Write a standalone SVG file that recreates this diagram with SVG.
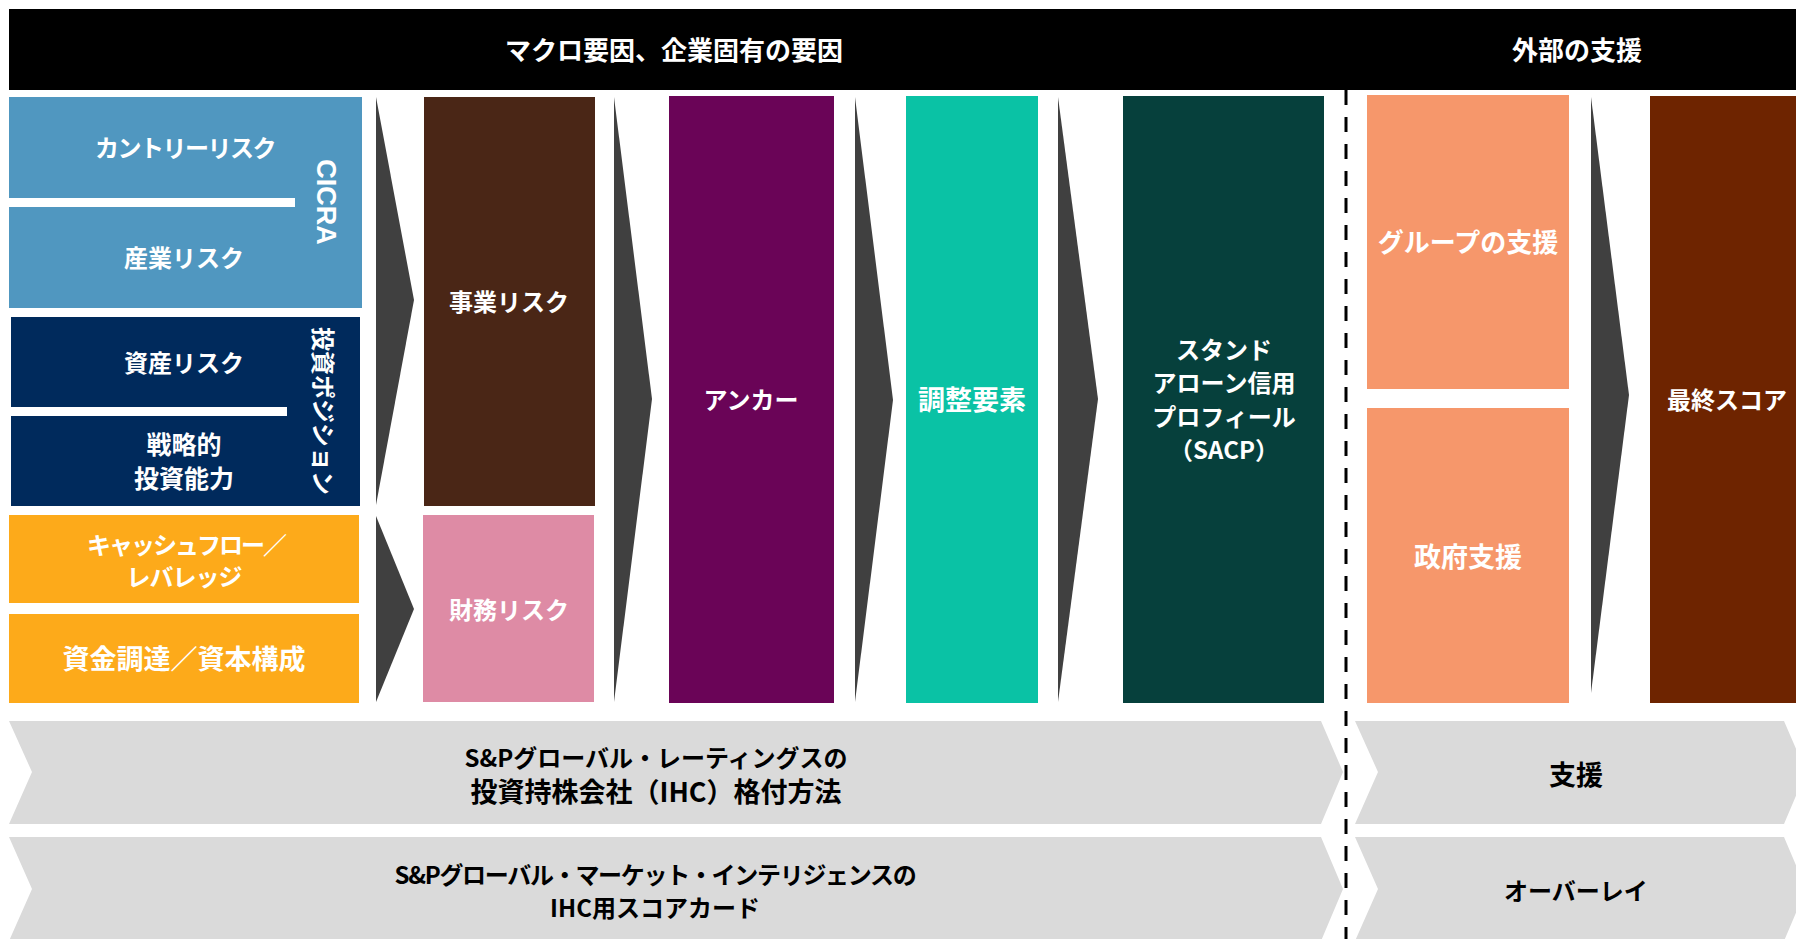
<svg xmlns="http://www.w3.org/2000/svg" width="1796" height="939" viewBox="0 0 1796 939">
<style>
  .t { font-family: "Noto Sans CJK JP", "Noto Sans", sans-serif; font-weight: bold; font-size: 24px; fill: #ffffff; text-anchor: middle; dominant-baseline: central; }
  .h { font-size: 26px; }
  .k { fill: #000000; }
  .chev { fill: #404040; }
  .band { fill: #DADADA; }
</style>
<rect width="1796" height="939" fill="#ffffff"/>

<g id="header">
  <rect x="9" y="9" width="1787" height="81" fill="#000000"/>
  <text class="t h" x="674" y="48">マクロ要因、企業固有の要因</text>
  <text class="t h" x="1577" y="48">外部の支援</text>
</g>

<g id="cicra">
  <path d="M9,97 H362 V308 H9 Z" fill="#5097C0"/>
  <rect x="9" y="198" width="286" height="9" fill="#ffffff"/>
  <text class="t" x="185" y="146" style="letter-spacing:-1.5px">カントリーリスク</text>
  <text class="t" x="184" y="256">産業リスク</text>
  <text class="t" x="0" y="0" transform="translate(326,202) rotate(90)" style="font-family:'Liberation Sans',Arial,sans-serif;font-size:27px">CICRA</text>
</g>

<g id="investment-position">
  <rect x="11" y="317" width="349" height="189" fill="#002A5C"/>
  <rect x="9" y="407" width="278" height="9" fill="#ffffff"/>
  <text class="t" x="184" y="361">資産リスク</text>
  <text class="t" x="184" y="443" style="font-size:25px">戦略的</text>
  <text class="t" x="184" y="477" style="font-size:25px">投資能力</text>
  <text class="t" x="0" y="0" transform="translate(324,411) rotate(90)">投資ポジション</text>
</g>

<g id="cashflow">
  <rect x="9" y="515" width="350" height="88" fill="#FDAA1A"/>
  <text class="t" x="186" y="543" style="letter-spacing:-2px">キャッシュフロー／</text>
  <text class="t" x="184" y="575" style="letter-spacing:-1px">レバレッジ</text>
</g>
<g id="funding">
  <rect x="9" y="614" width="350" height="89" fill="#FDAA1A"/>
  <text class="t" x="184" y="657" style="font-size:27px">資金調達／資本構成</text>
</g>

<g id="business-risk">
  <rect x="424" y="97" width="171" height="409" fill="#4A2616"/>
  <text class="t" x="509" y="300">事業リスク</text>
</g>
<g id="financial-risk">
  <rect x="423" y="515" width="171" height="187" fill="#DE8BA5"/>
  <text class="t" x="509" y="608">財務リスク</text>
</g>
<g id="anchor">
  <rect x="669" y="96" width="165" height="607" fill="#6A0457"/>
  <text class="t" x="751" y="398">アンカー</text>
</g>
<g id="modifiers">
  <rect x="906" y="96" width="132" height="607" fill="#0AC2A5"/>
  <text class="t" x="972" y="398" style="font-size:27px">調整要素</text>
</g>
<g id="sacp">
  <rect x="1123" y="96" width="201" height="607" fill="#06403C"/>
  <text class="t" x="1224" y="348">スタンド</text>
  <text class="t" x="1224" y="381">アローン信用</text>
  <text class="t" x="1224" y="415">プロフィール</text>
  <text class="t" x="1224" y="448">（SACP）</text>
</g>
<g id="group-support">
  <rect x="1367" y="95" width="202" height="294" fill="#F6976B"/>
  <text class="t" x="1468" y="240" style="font-size:26px">グループの支援</text>
</g>
<g id="government-support">
  <rect x="1367" y="408" width="202" height="295" fill="#F6976B"/>
  <text class="t" x="1468" y="555" style="font-size:27px">政府支援</text>
</g>
<g id="final-score">
  <rect x="1650" y="96" width="146" height="607" fill="#6E2400"/>
  <text class="t" x="1727" y="398">最終スコア</text>
</g>

<g id="band-ratings">
  <polygon class="band" points="9,721 1321,721 1343,772 1321,824 9,824 32,772"/>
  <text class="t k" x="656" y="756">S&amp;Pグローバル・レーティングスの</text>
  <text class="t k" x="656" y="790" style="font-size:27px">投資持株会社（IHC）格付方法</text>
</g>
<g id="band-support">
  <polygon class="band" points="1355,721 1784,721 1806,772 1784,824 1355,824 1378,772"/>
  <text class="t k" x="1576" y="773" style="font-size:27px">支援</text>
</g>
<g id="band-scorecard">
  <polygon class="band" points="9,837 1321,837 1343,889 1321,941 9,941 32,889"/>
  <text class="t k" x="655" y="873" style="letter-spacing:-1.3px">S&amp;Pグローバル・マーケット・インテリジェンスの</text>
  <text class="t k" x="655" y="906">IHC用スコアカード</text>
</g>
<g id="band-overlay">
  <polygon class="band" points="1355,837 1784,837 1806,889 1784,941 1355,941 1378,889"/>
  <text class="t k" x="1576" y="889">オーバーレイ</text>
</g>

<g id="connectors">
  <polygon class="chev" points="376,97 414,300 376,505"/>
  <polygon class="chev" points="376,516 414,609 376,702"/>
  <polygon class="chev" points="614,97 652,399 614,702"/>
  <polygon class="chev" points="855,97 893,400 855,702"/>
  <polygon class="chev" points="1058,97 1098,399 1058,702"/>
  <polygon class="chev" points="1591,97 1629,395 1591,693"/>
  <line x1="1346" y1="90" x2="1346" y2="939" stroke="#000000" stroke-width="3" stroke-dasharray="15 12"/>
</g>
</svg>
